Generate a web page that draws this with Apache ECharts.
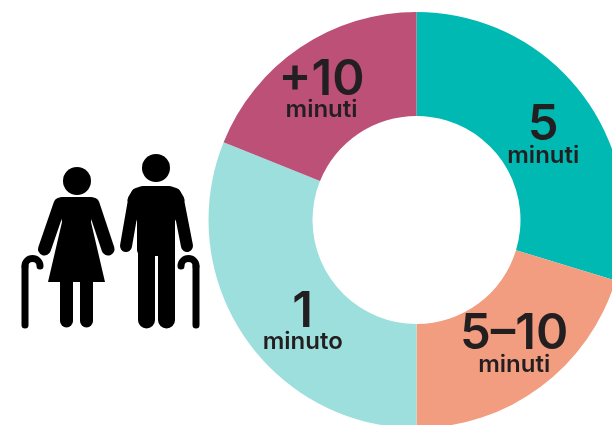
<!DOCTYPE html>
<html><head><meta charset="utf-8">
<style>html,body{margin:0;padding:0;background:#fff}#c{width:612px;height:425px}</style>
<script src="https://cdn.jsdelivr.net/npm/echarts@6/dist/echarts.min.js"></script>
</head><body><div id="c"></div>
<script>
const numbers = ['5', '5–10', '1', '+10'];
const units = ['minuti', 'minuti', 'minuto', 'minuti'];
const shares = [29.7, 20.3, 31.1, 18.9];
const colors = ['#00B9B3', '#F29D80', '#9DDFDC', '#BC5077'];
const labelOffsets = [[-1, 11], [3, -2], [18, 14], [-6, 3]];
const INK = '#231F20';
const chart = echarts.init(document.getElementById('c'), null, {renderer: 'canvas'});
const line = (points, w) => ({type: 'polyline', shape: {points},
  style: {fill: null, stroke: '#000', lineWidth: w, lineCap: 'round', lineJoin: 'round'}});
const poly = (points, w) => ({type: 'polygon', shape: {points},
  style: {fill: '#000', stroke: '#000', lineWidth: w || 0, lineJoin: 'round'}});
const circle = (cx, cy, r) => ({type: 'circle', shape: {cx, cy, r}, style: {fill: '#000'}});
const arc = (cx, cy, r, a, b, cw, w) => ({type: 'arc', shape: {cx, cy, r, startAngle: a, endAngle: b, clockwise: cw},
  style: {fill: null, stroke: '#000', lineWidth: w, lineCap: 'round'}});
chart.setOption({
  animation: false,
  backgroundColor: '#fff',
  series: [{
    type: 'pie',
    center: [416.5, 220],
    radius: [104, 208],
    startAngle: 90,
    clockwise: true,
    silent: true,
    labelLine: {show: false},
    data: shares.map((v, i) => ({
      value: v,
      name: numbers[i] + ' ' + units[i],
      itemStyle: {color: colors[i]},
      label: {
        show: true, position: 'inside', offset: labelOffsets[i],
        formatter: '{n|' + numbers[i] + '}\n{u|' + units[i] + '}',
        rich: {
          n: {fontFamily: 'Inter', fontWeight: 600, fontSize: 49, lineHeight: 38, color: INK, align: 'center'},
          u: {fontFamily: 'Inter', fontWeight: 600, fontSize: 24, lineHeight: 22, color: INK, align: 'center'}
        }
      }
    }))
  }],
  graphic: {elements: [
    circle(77, 181, 14),
    poly([[62, 199], [91, 199], [94, 204], [91, 222], [105, 282], [48, 282], [62, 222], [59, 204]], 0),
    poly([[62, 200], [91, 200], [91, 204], [62, 204]], 6),
    line([[60, 204], [44.5, 249]], 13),
    line([[93, 204], [108, 249]], 13),
    line([[66.5, 280], [66.5, 321]], 13),
    line([[86.5, 280], [86.5, 321]], 13),
    circle(156, 168, 14),
    poly([[143, 192], [169, 192], [175, 194], [178.5, 200], [169, 220], [169, 250], [143, 250], [143, 220], [133.5, 200], [137, 194]], 12),
    line([[134, 200], [126, 246]], 12),
    line([[178, 200], [187, 246]], 12),
    line([[146.5, 250], [146.5, 320]], 17),
    line([[166.5, 250], [166.5, 320]], 17),
    line([[25, 325], [25, 267]], 7),
    arc(32.5, 266, 7.5, Math.PI, 0, true, 7),
    line([[196, 325], [196, 267]], 7),
    arc(188.5, 266, 7.5, 0, Math.PI, false, 7)
  ]}
});
</script></body></html>
